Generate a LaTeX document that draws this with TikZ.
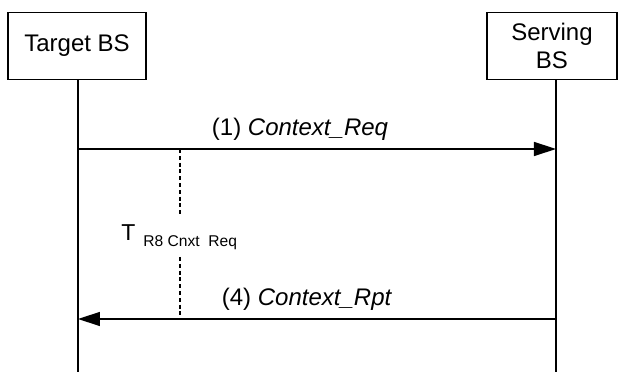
\documentclass[tikz,border=0pt]{standalone}
\usepackage{fontspec}
\setmainfont{Liberation Sans}
\usetikzlibrary{arrows.meta}
\tikzset{
  entity/.style={draw, line width=0.6pt, minimum height=33.5pt, align=center,
    font=\fontsize{12}{14}\selectfont},
  lifeline/.style={line width=0.7pt},
  msg/.style={line width=0.7pt, -{Triangle[length=11pt,width=7pt]}},
  msglabel/.style={anchor=base, inner sep=0pt, font=\fontsize{12}{14}\selectfont},
  timerline/.style={line width=0.6pt, dash pattern=on 2pt off 1.4pt}
}
\begin{document}
\begin{tikzpicture}[x=0.5pt, y=-0.5pt]
\useasboundingbox (0,0) rectangle (618,384);
% the two base stations
\node[entity, minimum width=69pt] (tgt) at (77,46) {Target BS};
\node[entity, minimum width=65pt] (srv) at (552,46) {Serving\\BS};
\coordinate (tgttop) at (78,80);
\coordinate (tgtend) at (78,372);
\coordinate (srvtop) at (556,80);
\coordinate (srvend) at (556,372);
\draw[lifeline] (tgttop) -- (tgtend);
\draw[lifeline] (srvtop) -- (srvend);
% messages
\coordinate (req1) at (78,149);
\coordinate (req2) at (556,149);
\coordinate (rpt1) at (556,319);
\coordinate (rpt2) at (78,319);
\draw[msg] (req1) -- (req2);
\node[msglabel] (reqlabel) at (300,135.5) {(1) \textit{Context\_Req}};
\draw[msg] (rpt1) -- (rpt2);
\node[msglabel] (rptlabel) at (307,305.5) {(4) \textit{Context\_Rpt}};
% timer
\coordinate (tma) at (180,149);
\coordinate (tmb) at (180,215);
\coordinate (tmc) at (180,257);
\coordinate (tmd) at (180,319);
\draw[timerline] (tma) -- (tmb);
\draw[timerline] (tmc) -- (tmd);
\node[anchor=west, inner sep=0pt, font=\fontsize{11.5}{13}\selectfont] (timer) at (121,233) {T};
\node[anchor=west, inner sep=0pt, font=\fontsize{7.8}{9}\selectfont] (timersub) at (143,243) {R8 Cnxt\ \ Req};
\end{tikzpicture}
\end{document}
